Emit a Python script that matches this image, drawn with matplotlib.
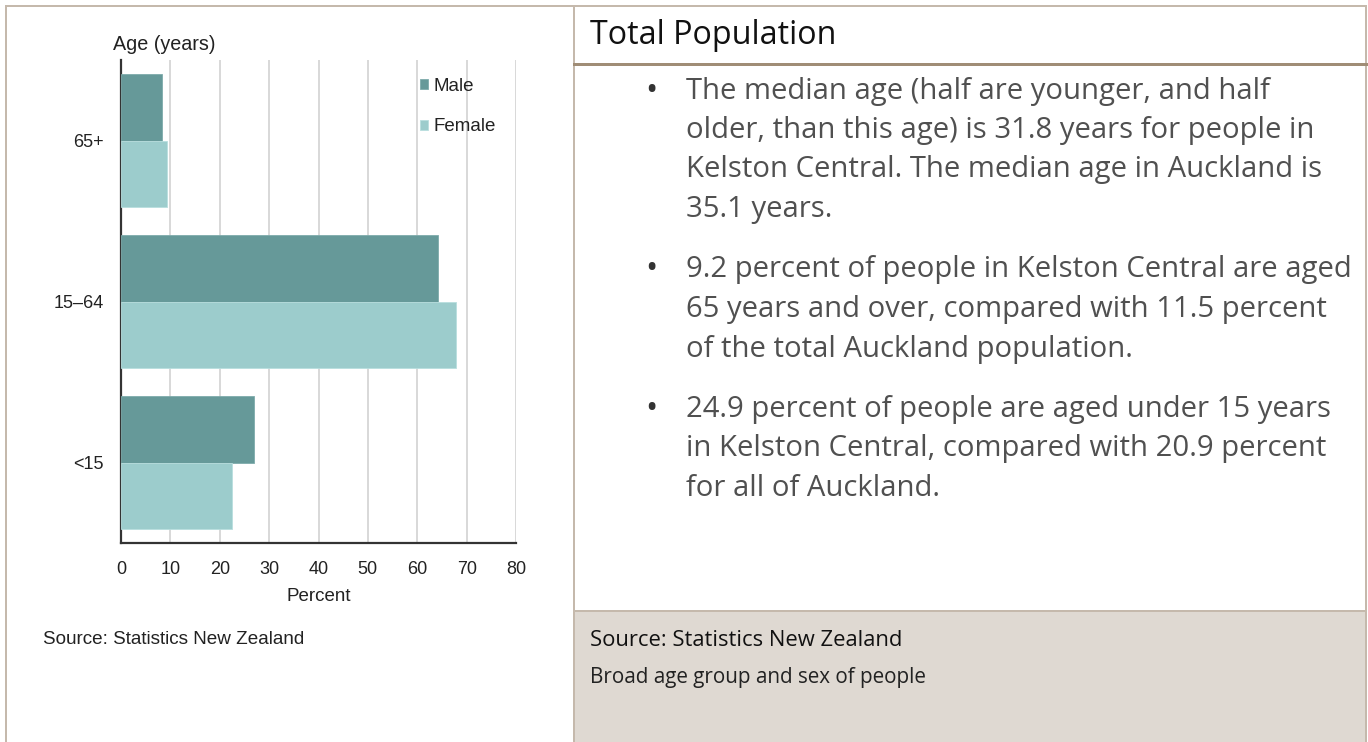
import matplotlib
matplotlib.use("Agg")
import matplotlib.pyplot as plt
import numpy as np
from matplotlib.patches import Rectangle
from matplotlib.lines import Line2D

# ---- data ----
age_groups = ["65+", "15–64", "<15"]
male = [8.3, 64.2, 27.0]
female = [9.3, 67.8, 22.4]
x_ticks = [0, 10, 20, 30, 40, 50, 60, 70, 80]

title = "Total Population"
bullets = [
    ["The median age (half are younger, and half",
     "older, than this age) is 31.8 years for people in",
     "Kelston Central. The median age in Auckland is",
     "35.1 years."],
    ["9.2 percent of people in Kelston Central are aged",
     "65 years and over, compared with 11.5 percent",
     "of the total Auckland population."],
    ["24.9 percent of people are aged under 15 years",
     "in Kelston Central, compared with 20.9 percent",
     "for all of Auckland."],
]
footer_source = "Source: Statistics New Zealand"
footer_caption = "Broad age group and sex of people"

W, H = 1368, 742
fig = plt.figure(figsize=(W / 100, H / 100), dpi=100)
fig.patch.set_facecolor("white")
renderer = fig.canvas.get_renderer()

def fx(x):
    return x / W

def fy(y):
    return 1 - y / H

def fit(t, target_px):
    w = t.get_window_extent(renderer).width
    t.set_fontsize(t.get_fontsize() * target_px / w)
    return t.get_fontsize()

border = "#c5b9ac"
# ---- panel frames ----
fig.patches.append(Rectangle((fx(574), 0), fx(1366) - fx(574), fy(611), transform=fig.transFigure,
                             facecolor="#dfd9d2", edgecolor="none", zorder=0))
for (x0, y0, x1, y1, c, lw) in [
    (6, 6, 1366, 6, border, 2),
    (6, 6, 6, 742, border, 2),
    (574, 6, 574, 742, border, 2),
    (1366, 6, 1366, 742, border, 2),
    (574, 64, 1366, 64, "#a08d76", 3),
    (574, 611, 1366, 611, border, 2),
]:
    fig.add_artist(Line2D([fx(x0), fx(x1)], [fy(y0), fy(y1)], transform=fig.transFigure,
                          color=c, lw=lw * 0.72, zorder=1))

# ---- chart ----
lf = "Liberation Sans"
ax = fig.add_axes([fx(121), fy(543), fx(516) - fx(121), (543 - 60) / H])
y = np.arange(len(age_groups))
h = 0.416
c_male = "#669999"
c_female = "#9ccccc"
ax.barh(y - h / 2, male, height=h, color=c_male, edgecolor="#7eabab", linewidth=0.6, label="Male", zorder=3)
ax.barh(y + h / 2, female, height=h, color=c_female, edgecolor="#b8dede", linewidth=0.6, label="Female", zorder=3)
ax.set_ylim(2.5, -0.5)
ax.set_xlim(0, 80)
ax.set_yticks(y)
ax.set_yticklabels(age_groups)
ax.set_xticks(x_ticks)
ax.set_xticklabels([str(t) for t in x_ticks])
ax.tick_params(length=0, labelsize=13, colors="#222222")
ax.tick_params(axis="x", pad=13)
ax.tick_params(axis="y", pad=12.5)
ax.xaxis.grid(True, color="#d2d2d2", lw=1.2, zorder=0)
ax.set_axisbelow(True)
for s in ["top", "right"]:
    ax.spines[s].set_visible(False)
for s in ["left", "bottom"]:
    ax.spines[s].set_color("#333333")
    ax.spines[s].set_linewidth(1.6)
ax.set_xlabel("Percent", fontsize=13.5, color="#222222", labelpad=7)
for lab in ax.get_xticklabels() + ax.get_yticklabels():
    lab.set_family(lf)
ax.xaxis.label.set_family(lf)

t = fig.text(fx(113), fy(45), "Age (years)", ha="left", va="center", fontsize=13,
             family=lf, color="#222222")
fit(t, 102)
leg = ax.legend(loc="upper left", bbox_to_anchor=(fx(420), fy(78)), bbox_transform=fig.transFigure,
                frameon=False, handlelength=0.45, handleheight=0.45, handletextpad=0.25,
                labelspacing=1.25, borderaxespad=0, borderpad=0,
                prop={"family": lf, "size": 13.5})
for tt in leg.get_texts():
    tt.set_color("#222222")
t = fig.text(fx(43), fy(640), "Source: Statistics New Zealand", ha="left", va="center", fontsize=13,
             family=lf, color="#222222")
fit(t, 262)

# ---- right panel text ----
rf = "Open Sans"
t = fig.text(fx(590), fy(36), title, ha="left", va="center", fontsize=20, family=rf, color="#111111")
fit(t, 246)

probe = fig.text(0, 0, bullets[0][0], fontsize=19, family=rf)
body_size = fit(probe, 584)
probe.remove()

line_h = 39.5
starts = [91, 270, 409]
for start, lines in zip(starts, bullets):
    fig.text(fx(645), fy(start), "•", ha="left", va="center", fontsize=body_size * 1.1, family=rf, color="#333333")
    for i, ln in enumerate(lines):
        fig.text(fx(686), fy(start + i * line_h), ln, ha="left", va="center", fontsize=body_size,
                 family=rf, color="#505050")

t = fig.text(fx(590), fy(640), footer_source, ha="left", va="center", fontsize=14, family=rf, color="#111111")
fit(t, 313)
t = fig.text(fx(590), fy(678), footer_caption, ha="left", va="center", fontsize=13, family=rf, color="#222222")
fit(t, 334)

fig.savefig("out.png", dpi=100)
